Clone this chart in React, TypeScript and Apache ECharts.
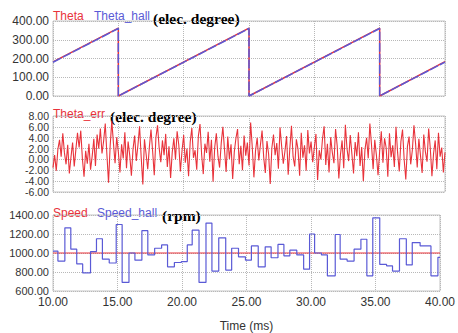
import React, { useEffect, useRef } from "react";
import * as echarts from "echarts";

// Panel 1: rotor angle (elec. degree)
const thetaTime = [10, 15, 15, 25, 25, 35, 35, 40];
const thetaValues = [182, 362, 0, 362, 0, 362, 0, 183];
const thetaHallValues = [180, 360, 0, 360, 0, 360, 0, 181];

// Panel 2: angle error (elec. degree), sampled every 0.125 ms from 10 ms
const errStart = 10;
const errStep = 0.125;
const thetaErr = [
  -1.5, 0.8, -2.1, 1.9, 3.6, 0.5, 4.8, 1.2,
  -0.9, 2.7, -2.6, 0.4, 3.1, -1.3, 1.8, 4.9,
  2.2, 5.3, 0.1, -3.2, 1.6, -0.8, 2.9, -1.9,
  0.6, 3.8, -1.2, 4.6, 2.0, 5.7, 1.1, 3.4,
  6.6, 0.9, -4.3, 2.5, 7.1, 3.0, -0.7, 4.1,
  1.4, -2.4, 2.8, 0.2, 5.0, -1.6, 3.3, 0.7,
  -3.0, 1.9, 4.4, -0.3, 2.6, 6.1, 0.4, -4.6,
  3.7, 1.0, -1.8, 2.3, 5.5, 1.5, -2.9, 4.0,
  6.3, 2.1, -0.5, 3.5, 0.8, 4.7, -1.4, 2.4,
  -3.4, 1.3, 3.9, 0.0, 5.2, 2.7, -2.2, 1.6,
  4.5, -0.6, 2.0, -3.1, 3.2, 5.8, 0.3, 1.7,
  -1.9, 4.3, 6.5, 0.9, -2.7, 2.9, 1.2, 5.1,
  -0.4, 3.6, -4.1, 2.2, 4.8, 0.6, -1.5, 3.0,
  6.0, 1.8, -2.3, 4.2, 0.1, 2.8, -3.6, 1.4,
  3.9, 5.6, -0.9, 2.5, -2.0, 4.4, 0.7, 3.1,
  -1.1, 6.8, 2.3, -3.3, 1.6, 4.0, -0.2, 2.7,
  5.3, 0.4, -2.5, 3.4, 1.0, -4.5, 2.1, 4.6,
  0.8, 3.0, -1.7, 5.9, 2.4, -0.8, 1.5, 4.3,
  -2.8, 2.0, 6.2, 0.5, -1.3, 3.7, 1.9, -3.0,
  4.9, 0.3, 2.6, -2.1, 5.4, 1.1, 3.3, -0.5,
  2.2, 4.7, -3.8, 1.7, 0.0, 3.8, 6.1, -1.0,
  2.9, -2.4, 4.1, 1.3, -0.7, 5.6, 2.5, -3.5,
  0.9, 3.5, -1.6, 6.4, 2.0, -0.3, 4.5, 1.0,
  -2.6, 3.2, 0.6, 5.0, -1.2, 2.3, -4.0, 1.8,
  4.0, 0.2, 6.6, 2.7, -1.8, 3.6, 0.8, -2.9,
  1.5, 5.2, -0.6, 3.9, 2.1, -3.2, 4.8, 0.4,
  2.6, -1.4, 6.0, 1.2, -2.2, 3.3, 5.5, 0.0,
  -3.7, 2.4, 4.2, -0.9, 1.7, 6.3, 2.9, -1.5,
  3.8, 0.7, -2.5, 4.6, 1.4, -0.4, 5.7, 2.0,
  -3.1, 1.1, 3.5, -1.8, 4.9, 0.5, 2.2, -2.4,
  1.3,
];

// Panel 3: speed (rpm)
const speedTime = [10, 40];
const speedValues = [1000, 1000];
const hallStepStart = [
  10.0, 10.38, 10.92, 11.38, 11.84, 12.3, 12.91, 13.37, 13.83, 14.36,
  14.9, 15.36, 15.89, 16.35, 16.89, 17.35, 17.88, 18.42, 18.88, 19.41,
  19.95, 20.41, 20.79, 21.32, 21.86, 22.32, 22.85, 23.39, 23.85, 24.38,
  24.92, 25.38, 25.91, 26.45, 26.91, 27.44, 27.9, 28.36, 28.9, 29.43,
  29.89, 30.28, 30.81, 31.27, 31.88, 32.26, 32.8, 33.34, 33.87, 34.33,
  34.79, 35.33, 35.86, 36.32, 36.86, 37.39, 37.85, 38.46, 39.3, 39.84,
  40.0,
];
const hallStepValues = [
  1020, 915, 1265, 1040, 885, 790, 1015, 1150, 935, 895,
  1300, 690, 1000, 925, 1235, 980, 1050, 1085, 855, 900,
  910, 1085, 1240, 690, 1315, 810, 1160, 820, 1050, 960,
  925, 1075, 855, 1065, 950, 1090, 970, 1030, 980, 830,
  1200, 1000, 980, 760, 1195, 935, 915, 1040, 1145, 760,
  1370, 880, 865, 810, 1150, 875, 1110, 1075, 760, 955,
  955,
];

const xTicks = { min: 10, max: 40, interval: 5 };

const RED = "#e8333b";
const BLUE = "#5a5ad6";
const LABEL_FONT = "Liberation Sans, Arial, sans-serif";
const SERIF = "Liberation Serif, Times New Roman, serif";

export default function App() {
  const ref = useRef<HTMLDivElement>(null);

  useEffect(() => {
    if (!ref.current) return;
    const chart = echarts.init(ref.current, undefined, { renderer: "svg" });

    const grids = [
      { left: 53, top: 21, width: 392, height: 75 },
      { left: 53, top: 116, width: 392, height: 76 },
      { left: 53, top: 215, width: 392, height: 76 },
    ].map((g) => ({ ...g, show: true, borderColor: "#c4c4c4", borderWidth: 1, backgroundColor: "#fff" }));

    const splitLine = { show: true, lineStyle: { type: "dotted" as const, color: "#b8b8b8", width: 1 } };

    const xAxes = [0, 1, 2].map((i) => ({
      type: "value" as const,
      gridIndex: i,
      min: xTicks.min,
      max: xTicks.max,
      interval: xTicks.interval,
      axisLine: { show: false },
      axisTick: { show: false },
      splitLine,
      axisLabel: {
        show: i === 2,
        showMinLabel: true,
        showMaxLabel: true,
        formatter: (v: number) => v.toFixed(2),
        fontFamily: LABEL_FONT,
        fontSize: 12,
        color: "#333",
        margin: 5,
      },
      name: i === 2 ? "Time (ms)" : "",
      nameLocation: "middle" as const,
      nameGap: 29,
      nameTextStyle: { fontFamily: LABEL_FONT, fontSize: 12, color: "#333" },
    }));

    const yCfg = [
      { min: 0, max: 400, interval: 100, fontSize: 12, lineHeight: 12 },
      { min: -6, max: 8, interval: 2, fontSize: 10.5, lineHeight: 9 },
      { min: 600, max: 1400, interval: 200, fontSize: 11, lineHeight: 12 },
    ];
    const yAxes = yCfg.map((c, i) => ({
      type: "value" as const,
      gridIndex: i,
      min: c.min,
      max: c.max,
      interval: c.interval,
      axisLine: { show: false },
      axisTick: { show: false },
      splitLine,
      axisLabel: {
        showMinLabel: true,
        showMaxLabel: true,
        hideOverlap: false,
        formatter: (v: number) => v.toFixed(2),
        fontFamily: LABEL_FONT,
        fontSize: c.fontSize,
        lineHeight: c.lineHeight,
        color: "#333",
        margin: 4,
      },
    }));

    const zip = (xs: number[], ys: number[]) => xs.map((x, i) => [x, ys[i]]);
    const errData = thetaErr.map((v, i) => [errStart + i * errStep, v]);

    const legendText = (x: number, y: number, text: string, fill: string) => ({
      type: "text" as const,
      x,
      y,
      style: { text, fill, font: `12px ${LABEL_FONT}`, textBaseline: "middle" as const },
    });
    const unitText = (x: number, y: number, text: string) => ({
      type: "text" as const,
      x,
      y,
      style: { text, fill: "#000", font: `bold 15.5px ${SERIF}`, textBaseline: "middle" as const },
    });

    chart.setOption({
      animation: false,
      backgroundColor: "#fff",
      grid: grids,
      xAxis: xAxes,
      yAxis: yAxes,
      series: [
        {
          type: "line",
          name: "Theta",
          xAxisIndex: 0,
          yAxisIndex: 0,
          data: zip(thetaTime, thetaValues),
          showSymbol: false,
          lineStyle: { color: RED, width: 1.5 },
        },
        {
          type: "line",
          name: "Theta_hall",
          xAxisIndex: 0,
          yAxisIndex: 0,
          data: zip(thetaTime, thetaHallValues),
          showSymbol: false,
          lineStyle: { color: BLUE, width: 1.5, type: [9, 2] },
        },
        {
          type: "line",
          name: "Theta_err",
          xAxisIndex: 1,
          yAxisIndex: 1,
          data: errData,
          showSymbol: false,
          lineStyle: { color: RED, width: 1.1 },
        },
        {
          type: "line",
          name: "Speed",
          xAxisIndex: 2,
          yAxisIndex: 2,
          data: zip(speedTime, speedValues),
          showSymbol: false,
          lineStyle: { color: RED, width: 1 },
        },
        {
          type: "line",
          name: "Speed_hall",
          xAxisIndex: 2,
          yAxisIndex: 2,
          step: "end",
          data: zip(hallStepStart, hallStepValues),
          showSymbol: false,
          lineStyle: { color: BLUE, width: 1.2 },
        },
      ],
      graphic: [
        legendText(53, 10, "Theta", RED),
        legendText(94, 10, "Theta_hall", BLUE),
        unitText(153, 10, "(elec. degree)"),
        legendText(53, 108, "Theta_err", RED),
        unitText(110, 108, "(elec. degree)"),
        legendText(53, 207, "Speed", RED),
        legendText(97, 207, "Speed_hall", BLUE),
        unitText(162, 207, "(rpm)"),
      ],
    });

    return () => chart.dispose();
  }, []);

  return (
    <div
      ref={ref}
      style={{ position: "fixed", left: 0, top: 0, width: 458, height: 333, background: "#fff" }}
    />
  );
}
